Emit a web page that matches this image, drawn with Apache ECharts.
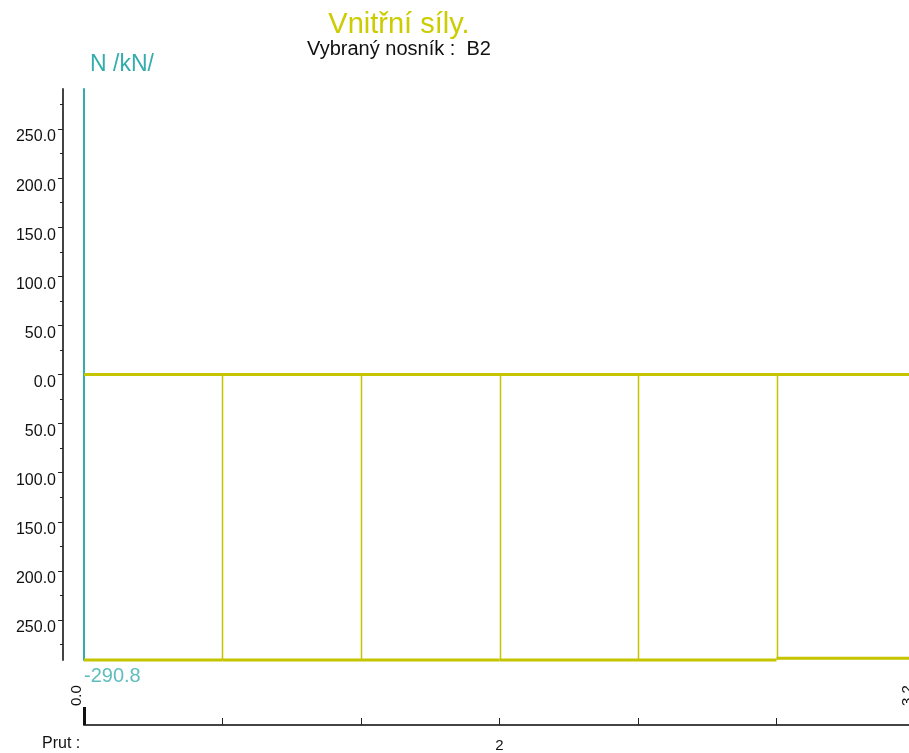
<!DOCTYPE html>
<html>
<head>
<meta charset="utf-8">
<script src="https://cdn.jsdelivr.net/npm/echarts@6/dist/echarts.min.js"></script>
<style>
  html, body { margin: 0; padding: 0; background: #fff; overflow: hidden; }
  #chart { width: 930px; height: 753px; }
</style>
</head>
<body>
<div id="chart"></div>
<script>
// Stations along member 2 (m) and the normal force on each segment between them (kN)
const stations = [0, 0.5333, 1.0667, 1.6, 2.1333, 2.6667, 3.2];
const normalForce = [-290.8, -290.8, -290.8, -290.8, -290.8, -288.9];
const yMajorTicks = [-250, -200, -150, -100, -50, 0, 50, 100, 150, 200, 250];
const yMinorTicks = [-275, -225, -175, -125, -75, -25, 25, 75, 125, 175, 225, 275];
const endLabels = [0, 3.2];
const memberName = '2';
const yLimit = 290.8;

const DIAG = '#c4c400';
const TEAL = '#36adad';
const FONT = '"Liberation Sans", Arial, sans-serif';

const memberStart = stations[0];
const memberEnd = stations[stations.length - 1];

// One item per segment: [start, end, N]
const segments = normalForce.map((n, i) => [stations[i], stations[i + 1], n]);
// Ordinates at the interior stations, down to the larger magnitude
const ordinates = [];
for (let i = 1; i < stations.length - 1; i++) {
  const a = normalForce[i - 1], b = normalForce[i];
  ordinates.push([stations[i], Math.abs(a) >= Math.abs(b) ? a : b]);
}

const chart = echarts.init(document.getElementById('chart'));
chart.setOption({
  animation: false,
  grid: { left: 84, top: 89, width: 831, height: 571 },
  graphic: [
    { type: 'text', style: { x: 399, y: 25, text: 'Vnitřní síly.', font: '29px ' + FONT, fill: '#cccc00', align: 'center', verticalAlign: 'middle' } },
    { type: 'text', style: { x: 399, y: 49, text: 'Vybraný nosník :  B2', font: '20px ' + FONT, fill: '#111', align: 'center', verticalAlign: 'middle' } },
    { type: 'text', style: { x: 90, y: 65, text: 'N /kN/', font: '23px ' + FONT, fill: TEAL, align: 'left', verticalAlign: 'middle' } },
    { type: 'text', style: { x: 42, y: 744, text: 'Prut :', font: '16px ' + FONT, fill: '#111', align: 'left', verticalAlign: 'middle' } }
  ],
  xAxis: [
    { type: 'value', gridIndex: 0, min: memberStart, max: memberEnd, show: false },
    {
      type: 'value', gridIndex: 0, min: memberStart, max: memberEnd, position: 'bottom', offset: 65,
      axisLine: { show: true, onZero: false, lineStyle: { color: '#444', width: 2 } },
      axisTick: { show: true, inside: true, length: 7, customValues: stations, lineStyle: { color: '#222', width: 1 } },
      axisLabel: {
        show: true, inside: true, rotate: 90, margin: 19, customValues: endLabels,
        verticalAlign: 'bottom', fontFamily: FONT, fontSize: 15, color: '#111',
        formatter: v => v.toFixed(1)
      },
      splitLine: { show: false }
    },
    {
      type: 'value', gridIndex: 0, min: memberStart, max: memberEnd, position: 'bottom', offset: 65,
      axisLine: { show: false, onZero: false },
      axisTick: { show: true, inside: true, length: 18, customValues: [memberStart], lineStyle: { color: '#111', width: 3 } },
      axisLabel: {
        show: true, margin: 13, customValues: [(memberStart + memberEnd) / 2],
        fontFamily: FONT, fontSize: 15, color: '#111', formatter: () => memberName
      },
      splitLine: { show: false }
    }
  ],
  yAxis: [
    {
      type: 'value', min: -yLimit, max: yLimit, position: 'left', offset: 21,
      axisLine: { show: true, onZero: false, lineStyle: { color: '#444', width: 2 } },
      axisTick: { show: true, length: 5, customValues: yMajorTicks, lineStyle: { color: '#222' } },
      axisLabel: {
        show: true, margin: 7, customValues: yMajorTicks, fontFamily: FONT, fontSize: 16, color: '#111',
        verticalAlign: 'top', lineHeight: 10, padding: [3, 0, 0, 0],
        formatter: v => Math.abs(v).toFixed(1)
      },
      splitLine: { show: false }
    },
    {
      type: 'value', min: -yLimit, max: yLimit, position: 'left', offset: 21,
      axisLine: { show: false, onZero: false },
      axisTick: { show: true, length: 3, customValues: yMinorTicks, lineStyle: { color: '#222' } },
      axisLabel: { show: false },
      splitLine: { show: false }
    },
    {
      type: 'value', min: -yLimit, max: yLimit, position: 'left', offset: 0,
      axisLine: { show: true, onZero: false, lineStyle: { color: TEAL, width: 2 } },
      axisTick: { show: false },
      axisLabel: { show: false },
      splitLine: { show: false }
    }
  ],
  series: [
    {
      // zero baseline
      type: 'line', xAxisIndex: 0, yAxisIndex: 0, clip: false, symbol: 'none',
      data: [[memberStart, 0], [memberEnd, 0]],
      lineStyle: { color: DIAG, width: 3 }
    },
    {
      // N diagram, one horizontal stroke per segment
      type: 'custom', xAxisIndex: 0, yAxisIndex: 0, clip: false,
      data: segments,
      renderItem: (params, api) => {
        const p0 = api.coord([api.value(0), api.value(2)]);
        const p1 = api.coord([api.value(1), api.value(2)]);
        return {
          type: 'line',
          shape: { x1: p0[0], y1: p0[1], x2: p1[0], y2: p1[1] },
          style: { stroke: DIAG, lineWidth: 3 }
        };
      }
    },
    {
      type: 'custom', xAxisIndex: 0, yAxisIndex: 0, clip: false,
      data: ordinates,
      renderItem: (params, api) => {
        const p0 = api.coord([api.value(0), 0]);
        const p1 = api.coord([api.value(0), api.value(1)]);
        return {
          type: 'line',
          shape: { x1: Math.round(p0[0]) + 0.5, y1: p0[1], x2: Math.round(p1[0]) + 0.5, y2: p1[1] },
          style: { stroke: DIAG, lineWidth: 1.5 }
        };
      }
    },
    {
      type: 'scatter', xAxisIndex: 0, yAxisIndex: 0, clip: false, symbolSize: 1,
      itemStyle: { color: 'transparent' },
      data: [[stations[0], normalForce[0]]],
      label: {
        show: true, position: 'bottom', distance: 6, align: 'left',
        fontFamily: FONT, fontSize: 20, color: TEAL,
        formatter: p => p.value[1].toFixed(1)
      }
    }
  ]
});
</script>
</body>
</html>
